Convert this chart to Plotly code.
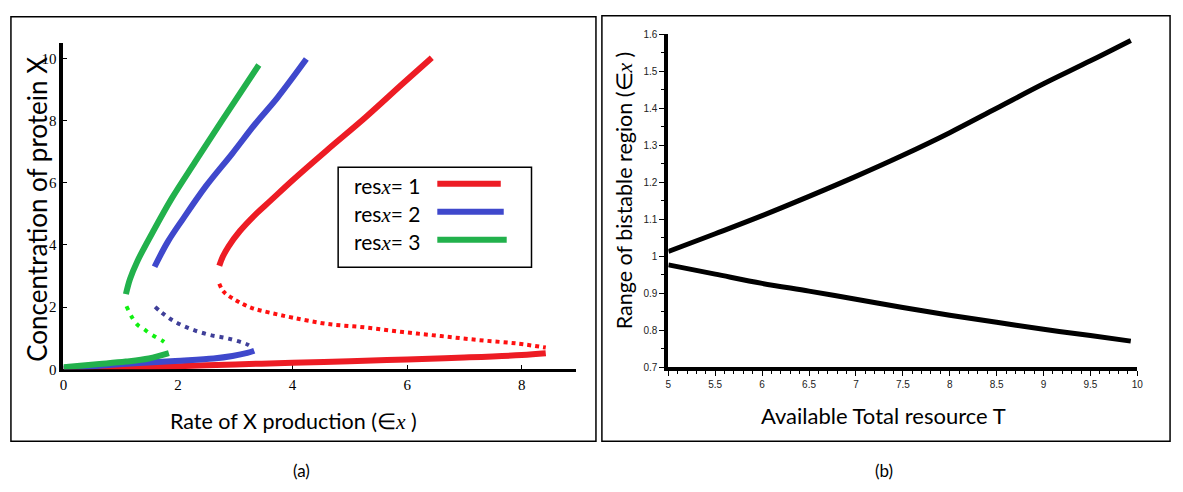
import plotly.graph_objects as go
from plotly.subplots import make_subplots

W, H = 1183, 492

# panel (a): steady states of protein X, three branches per resource value
red_up_x = [2.72, 2.78, 2.88, 3.08, 3.35, 3.61, 4.01, 4.6, 5.27, 5.93, 6.43]
red_up_y = [3.33, 3.62, 3.95, 4.45, 4.98, 5.42, 6.1, 7.05, 8.1, 9.2, 10.02]
red_mid_x = [2.72, 2.8, 3.02, 3.28, 3.61, 4.01, 4.61, 5.27, 5.93, 6.59, 7.26, 7.92, 8.42]
red_mid_y = [2.75, 2.49, 2.21, 1.98, 1.82, 1.66, 1.46, 1.35, 1.2, 1.07, 0.94, 0.83, 0.7]
red_lo_x = [0, 1.0, 2.0, 3.0, 4.0, 5.0, 6.0, 7.0, 8.0, 8.42]
red_lo_y = [0.0, 0.05, 0.1, 0.16, 0.21, 0.26, 0.32, 0.38, 0.46, 0.52]

blue_up_x = [1.59, 1.82, 2.09, 2.49, 2.95, 3.35, 3.74, 4.24]
blue_up_y = [3.3, 4.1, 4.85, 5.9, 6.95, 7.9, 8.75, 9.98]
blue_mid_x = [1.6, 1.72, 1.92, 2.22, 2.55, 2.88, 3.21, 3.31]
blue_mid_y = [2.01, 1.82, 1.56, 1.3, 1.11, 0.99, 0.8, 0.68]
blue_lo_x = [0, 0.96, 1.95, 2.62, 2.95, 3.21, 3.33]
blue_lo_y = [0.03, 0.16, 0.27, 0.35, 0.43, 0.53, 0.6]

green_up_x = [1.09, 1.16, 1.29, 1.56, 1.89, 2.29, 2.75, 3.41]
green_up_y = [2.42, 2.9, 3.48, 4.42, 5.5, 6.65, 7.95, 9.79]
green_mid_x = [1.1, 1.21, 1.31, 1.4, 1.5, 1.61, 1.71, 1.81]
green_mid_y = [2.03, 1.63, 1.4, 1.3, 1.16, 1.04, 0.94, 0.81]
green_lo_x = [0, 0.63, 1.09, 1.49, 1.84]
green_lo_y = [0.07, 0.17, 0.25, 0.35, 0.52]

# panel (b): edges of the bistable region vs total resource
T_vals = [5.0, 5.5, 6.0, 6.5, 7.0, 7.5, 8.0, 8.5, 9.0, 9.5, 9.93]
upper_edge = [1.013, 1.061, 1.110, 1.162, 1.216, 1.273, 1.334, 1.400, 1.466, 1.528, 1.583]
lower_edge = [0.977, 0.952, 0.927, 0.906, 0.884, 0.862, 0.841, 0.822, 0.803, 0.786, 0.771]

XI = "<span style='font-family:Liberation Serif'><i>x</i></span>"
legend_labels = ["res" + XI + "= 1", "res" + XI + "= 2", "res" + XI + "= 3"]
legend_colors = ["#ed1c24", "#3f48cc", "#22b14c"]

RED, BLUE, GREEN = legend_colors
RED_DOT, BLUE_DOT, GREEN_DOT = "#ff1010", "#3f3f99", "#10f010"

fig = make_subplots(rows=1, cols=2)


def line(x, y, color, width=6, dash="solid", col=1):
    fig.add_trace(go.Scatter(x=x, y=y, mode="lines", showlegend=False, hoverinfo="skip",
                             line=dict(color=color, width=width, dash=dash, shape="spline",
                                       smoothing=1.0)),
                  row=1, col=col)


line(red_lo_x, red_lo_y, RED)
line(blue_lo_x, blue_lo_y, BLUE)
line(green_lo_x, green_lo_y, GREEN)
line(red_up_x, red_up_y, RED)
line(blue_up_x, blue_up_y, BLUE)
line(green_up_x, green_up_y, GREEN)
line(red_mid_x, red_mid_y, RED_DOT, width=4, dash="4px,4px")
line(blue_mid_x, blue_mid_y, BLUE_DOT, width=4, dash="4px,5px")
line(green_mid_x, green_mid_y, GREEN_DOT, width=4, dash="4px,6px")

line(T_vals, upper_edge, "black", width=5, col=2)
line(T_vals, lower_edge, "black", width=5, col=2)


def px(x):
    return x / W


def py(y):
    return 1 - y / H


EPS = "∈" + XI + " )"

fig.update_xaxes(row=1, col=1, domain=[px(60), px(577)], range=[0, 8.95],
                 showline=True, linewidth=3, linecolor="black", showgrid=False,
                 zeroline=False, ticks="inside", ticklen=4, tickcolor="black",
                 dtick=2, tickfont=dict(family="Liberation Serif", size=15, color="black"),
                 layer="below traces")
fig.update_yaxes(row=1, col=1, domain=[py(374), py(38)], range=[0, 10.5],
                 showline=True, linewidth=4, linecolor="black", showgrid=False,
                 zeroline=False, ticks="inside", ticklen=4, tickcolor="black",
                 dtick=2, tickfont=dict(family="Liberation Serif", size=15, color="black"),
                 layer="below traces")

small = dict(family="Liberation Sans", size=10, color="#222")
fig.update_xaxes(row=1, col=2, domain=[px(670), px(1143)], range=[5, 10],
                 showline=True, linewidth=4, linecolor="black", showgrid=False,
                 zeroline=False, ticks="outside", ticklen=5, tickcolor="black",
                 dtick=0.5, tickfont=small,
                 minor=dict(dtick=0.1, ticks="outside", ticklen=3, tickcolor="black"))
fig.update_yaxes(row=1, col=2, domain=[py(372), py(29)], range=[0.7, 1.6],
                 showline=True, linewidth=4, linecolor="black", showgrid=False,
                 zeroline=False, ticks="outside", ticklen=5, tickcolor="black",
                 dtick=0.1, tickfont=small,
                 minor=dict(dtick=0.05, ticks="outside", ticklen=3, tickcolor="black"))

shapes = [
    # frames round the two panels
    dict(type="rect", xref="paper", yref="paper", x0=px(7), x1=px(597), y0=py(448), y1=py(11),
         line=dict(color="black", width=1.5)),
    dict(type="rect", xref="paper", yref="paper", x0=px(603), x1=px(1176), y0=py(448), y1=py(10),
         line=dict(color="black", width=1.5)),
    # legend box
    dict(type="rect", xref="paper", yref="paper", x0=px(337), x1=px(532), y0=py(269), y1=py(166),
         line=dict(color="black", width=1.5), fillcolor="white"),
]


def label(text, x, y, size, angle=0, family="Lato", xanchor="center"):
    return dict(text=text, x=px(x), y=py(y), xref="paper", yref="paper", showarrow=False,
                xanchor=xanchor, yanchor="middle", textangle=angle,
                font=dict(family=family, size=size, color="black"))


annotations = [
    label("Rate of X production (" + EPS, 292, 427, 21.5),
    label("Concentration of protein X", 33, 209, 26, angle=-90),
    label("Available Total resource T", 887, 421, 22),
    label("Range of bistable region (" + EPS, 625, 190, 21.5, angle=-90),
    label("(a)", 300, 478, 17),
    label("(b)", 887, 478, 17),
]
for i, (lab, c) in enumerate(zip(legend_labels, legend_colors)):
    yy = 183 + i * 28.8
    shapes.append(dict(type="line", xref="paper", yref="paper", x0=px(437), x1=px(501 + 3 * i),
                       y0=py(yy), y1=py(yy), line=dict(color=c, width=6)))
    annotations.append(label(lab, 351, yy + 2, 21, xanchor="left"))

fig.update_layout(width=W, height=H, margin=dict(l=0, r=0, t=0, b=0),
                  paper_bgcolor="white", plot_bgcolor="white",
                  shapes=shapes, annotations=annotations)

fig.write_html("out.html", config={"displayModeBar": False},
               post_script="document.body.style.margin='0';document.body.style.overflow='hidden';")
